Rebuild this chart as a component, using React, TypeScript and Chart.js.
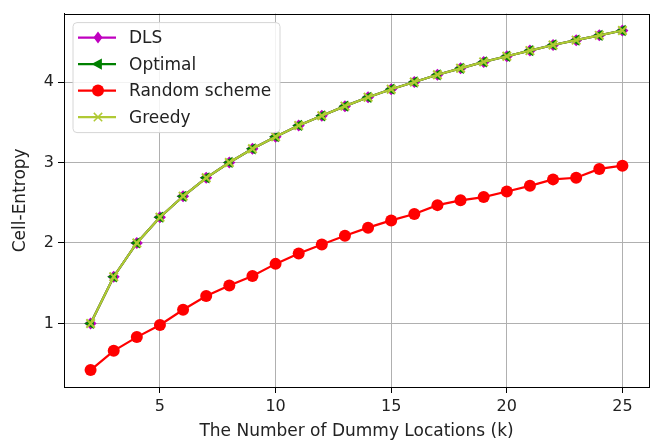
import React, { useEffect, useRef } from 'react';
import { Chart, registerables } from 'chart.js';
Chart.register(...registerables);

const kValues = [2, 3, 4, 5, 6, 7, 8, 9, 10, 11, 12, 13, 14, 15, 16, 17, 18, 19, 20, 21, 22, 23, 24, 25];
const dlsValues = [1.0, 1.58, 2.0, 2.32, 2.58, 2.81, 3.0, 3.17, 3.32, 3.46, 3.58, 3.7, 3.81, 3.91, 4.0, 4.09, 4.17, 4.25, 4.32, 4.39, 4.46, 4.52, 4.58, 4.64];
const optimalValues = [1.0, 1.58, 2.0, 2.32, 2.58, 2.81, 3.0, 3.17, 3.32, 3.46, 3.58, 3.7, 3.81, 3.91, 4.0, 4.09, 4.17, 4.25, 4.32, 4.39, 4.46, 4.52, 4.58, 4.64];
const randomValues = [0.42, 0.66, 0.83, 0.98, 1.17, 1.34, 1.47, 1.59, 1.74, 1.87, 1.98, 2.09, 2.19, 2.28, 2.36, 2.47, 2.53, 2.57, 2.64, 2.71, 2.79, 2.81, 2.92, 2.96];
const greedyValues = [1.0, 1.58, 2.0, 2.32, 2.58, 2.81, 3.0, 3.17, 3.32, 3.46, 3.58, 3.7, 3.81, 3.91, 4.0, 4.09, 4.17, 4.25, 4.32, 4.39, 4.46, 4.52, 4.58, 4.64];
const xTicks = [5, 10, 15, 20, 25];
const yTicks = [1, 2, 3, 4];
const seriesLabels = ['DLS', 'Optimal', 'Random scheme', 'Greedy'];
const xTitle = 'The Number of Dummy Locations (k)';
const yTitle = 'Cell-Entropy';

const FONT = "'DejaVu Sans', sans-serif";
const TEXT = '#222222';

const styles = [
  { color: '#bf00bf', pointStyle: 'rectRot', radius: 6, rotation: 0, order: 3 },
  { color: '#008000', pointStyle: 'triangle', radius: 6.5, rotation: -90, order: 2 },
  { color: '#ff0000', pointStyle: 'circle', radius: 6, rotation: 0, order: 1 },
  { color: '#b0c934', pointStyle: 'crossRot', radius: 6, rotation: 0, order: 0 },
];

function drawMarker(ctx: CanvasRenderingContext2D, style: any, x: number, y: number) {
  const r = style.radius;
  ctx.save();
  ctx.fillStyle = style.color;
  ctx.strokeStyle = style.color;
  ctx.lineWidth = 1.5;
  ctx.beginPath();
  if (style.pointStyle === 'circle') {
    ctx.arc(x, y, r, 0, Math.PI * 2);
    ctx.fill();
  } else if (style.pointStyle === 'rectRot') {
    ctx.moveTo(x, y - r);
    ctx.lineTo(x + r * 0.75, y);
    ctx.lineTo(x, y + r);
    ctx.lineTo(x - r * 0.75, y);
    ctx.closePath();
    ctx.fill();
  } else if (style.pointStyle === 'triangle') {
    ctx.moveTo(x - r, y);
    ctx.lineTo(x + r * 0.6, y - r * 0.85);
    ctx.lineTo(x + r * 0.6, y + r * 0.85);
    ctx.closePath();
    ctx.fill();
  } else {
    const d = r * 0.7;
    ctx.moveTo(x - d, y - d);
    ctx.lineTo(x + d, y + d);
    ctx.moveTo(x + d, y - d);
    ctx.lineTo(x - d, y + d);
    ctx.stroke();
  }
  ctx.restore();
}

const framePlugin = {
  id: 'frame',
  afterDatasetsDraw(chart: any) {
    const { ctx, chartArea: a } = chart;
    ctx.save();
    ctx.strokeStyle = '#000';
    ctx.lineWidth = 1;
    ctx.strokeRect(Math.round(a.left) + 0.5, Math.round(a.top) + 0.5, Math.round(a.right - a.left), Math.round(a.bottom - a.top));
    ctx.restore();
  },
};

const legendPlugin = {
  id: 'mplLegend',
  afterDraw(chart: any) {
    const { ctx, chartArea: a } = chart;
    const bx = a.left + 9;
    const by = a.top + 9;
    const bw = 207;
    const bh = 110;
    ctx.save();
    ctx.beginPath();
    const r = 4;
    ctx.moveTo(bx + r, by);
    ctx.lineTo(bx + bw - r, by);
    ctx.quadraticCurveTo(bx + bw, by, bx + bw, by + r);
    ctx.lineTo(bx + bw, by + bh - r);
    ctx.quadraticCurveTo(bx + bw, by + bh, bx + bw - r, by + bh);
    ctx.lineTo(bx + r, by + bh);
    ctx.quadraticCurveTo(bx, by + bh, bx, by + bh - r);
    ctx.lineTo(bx, by + r);
    ctx.quadraticCurveTo(bx, by, bx + r, by);
    ctx.closePath();
    ctx.fillStyle = 'rgba(255,255,255,0.85)';
    ctx.fill();
    ctx.strokeStyle = '#d6d6d6';
    ctx.lineWidth = 1;
    ctx.stroke();
    chart.data.datasets.forEach((ds: any, i: number) => {
      const st = styles[i];
      const y = by + 15 + i * 26.5;
      ctx.beginPath();
      ctx.strokeStyle = st.color;
      ctx.lineWidth = 2.2;
      ctx.moveTo(bx + 5, y);
      ctx.lineTo(bx + 43, y);
      ctx.stroke();
      drawMarker(ctx, st, bx + 25, y);
      ctx.fillStyle = TEXT;
      ctx.font = `17px ${FONT}`;
      ctx.textBaseline = 'middle';
      ctx.textAlign = 'left';
      ctx.fillText(ds.label, bx + 56, y + 1);
    });
    ctx.restore();
  },
};

export default function App() {
  const ref = useRef<HTMLCanvasElement>(null);
  useEffect(() => {
    document.body.style.margin = '0';
    const seriesValues = [dlsValues, optimalValues, randomValues, greedyValues];
    const datasets = seriesValues.map((vals, i) => ({
      label: seriesLabels[i],
      data: kValues.map((k, j) => ({ x: k, y: vals[j] })),
      borderColor: styles[i].color,
      backgroundColor: styles[i].color,
      pointBackgroundColor: styles[i].color,
      pointBorderColor: styles[i].color,
      pointStyle: styles[i].pointStyle as any,
      pointRadius: styles[i].radius,
      pointRotation: styles[i].rotation,
      pointBorderWidth: styles[i].pointStyle === 'crossRot' ? 2 : 0,
      borderWidth: 2.2,
      tension: 0,
      order: styles[i].order,
    }));
    const chart = new Chart(ref.current!, {
      type: 'line',
      data: { datasets },
      plugins: [framePlugin, legendPlugin],
      options: {
        animation: false,
        responsive: true,
        maintainAspectRatio: false,
        layout: { padding: { top: 5, right: 10, left: 0, bottom: 0 } },
        plugins: { legend: { display: false }, tooltip: { enabled: false } },
        scales: {
          x: {
            type: 'linear',
            min: 0.85,
            max: 26.15,
            afterBuildTicks: (s: any) => {
              s.ticks = xTicks.map((v) => ({ value: v }));
            },
            afterFit: (s: any) => {
              s.height = 60;
            },
            ticks: { color: TEXT, font: { family: FONT, size: 16 }, padding: 4, maxRotation: 0 },
            grid: { color: '#b0b0b0', lineWidth: 1, tickLength: 6, tickColor: '#000', tickWidth: 1 },
            border: { display: true, color: '#000', width: 1 },
            title: { display: true, text: xTitle, color: TEXT, font: { family: FONT, size: 17 }, padding: { top: 0, bottom: 5 } },
          },
          y: {
            type: 'linear',
            min: 0.21,
            max: 4.85,
            afterBuildTicks: (s: any) => {
              s.ticks = yTicks.map((v) => ({ value: v }));
            },
            afterFit: (s: any) => {
              s.width = 64;
            },
            ticks: { color: TEXT, font: { family: FONT, size: 16 }, padding: 4 },
            grid: { color: '#b0b0b0', lineWidth: 1, tickLength: 6, tickColor: '#000', tickWidth: 1 },
            border: { display: true, color: '#000', width: 1 },
            title: { display: true, text: yTitle, color: TEXT, font: { family: FONT, size: 17 }, padding: { top: 10, bottom: 0 } },
          },
        },
      },
    });
    return () => chart.destroy();
  }, []);
  return (
    <div style={{ position: 'relative', width: 659, height: 447 }}>
      <canvas ref={ref} />
    </div>
  );
}
